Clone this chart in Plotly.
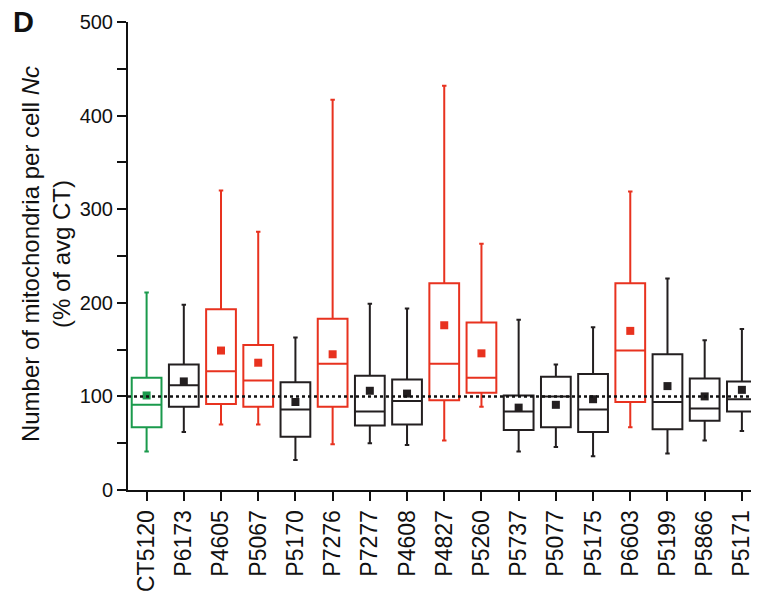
import plotly.graph_objects as go

categories = ["CT5120", "P6173", "P4605", "P5067", "P5170", "P7276", "P7277", "P4608",
              "P4827", "P5260", "P5737", "P5077", "P5175", "P6603", "P5199", "P5866", "P5171"]
upper_whisker = [211, 198, 320, 276, 163, 417, 199, 194, 432, 263, 182, 134, 174, 319, 226, 160, 172]
q3_values = [120, 134, 193, 155, 115, 183, 122, 118, 221, 179, 101, 121, 124, 221, 145, 119, 116]
median_values = [91, 112, 127, 117, 86, 135, 84, 95, 135, 120, 84, 100, 86, 149, 94, 87, 97]
q1_values = [67, 89, 92, 89, 57, 89, 69, 70, 96, 104, 64, 67, 62, 94, 65, 74, 84]
lower_whisker = [41, 62, 70, 70, 32, 49, 50, 48, 53, 89, 41, 46, 36, 67, 39, 53, 63]
mean_values = [101, 116, 149, 136, 94, 145, 106, 103, 176, 146, 88, 91, 97, 170, 111, 100, 107]
groups = ["control", "other", "high", "high", "other", "high", "other", "other",
          "high", "high", "other", "other", "other", "high", "other", "other", "other"]
reference_level = 100
y_ticks = [0, 100, 200, 300, 400, 500]

colors = {"control": "#1a9a4c", "high": "#e8321f", "other": "#231f20"}

fig = go.Figure()
for i, cat in enumerate(categories):
    c = colors[groups[i]]
    fig.add_trace(go.Box(
        x=[cat], q1=[q1_values[i]], median=[median_values[i]], q3=[q3_values[i]],
        lowerfence=[lower_whisker[i]], upperfence=[upper_whisker[i]],
        line=dict(color=c, width=2), fillcolor="rgba(255,255,255,0)",
        width=0.8, whiskerwidth=0.15, boxpoints=False, showlegend=False,
        hoverinfo="skip"))
    fig.add_trace(go.Scatter(
        x=[cat], y=[mean_values[i]], mode="markers",
        marker=dict(symbol="square", size=8, color=c), showlegend=False))

fig.add_shape(type="line", xref="paper", yref="y", x0=0, x1=1,
              y0=reference_level, y1=reference_level,
              line=dict(color="#111", width=2.5, dash="dot"), layer="above")

fig.update_layout(
    width=751, height=584,
    margin=dict(l=120, r=0, t=14, b=102),
    plot_bgcolor="white", paper_bgcolor="white",
    font=dict(family="Liberation Sans, Arial, sans-serif", color="#111", size=21),
    boxmode="overlay",
    xaxis=dict(type="category", categoryorder="array", categoryarray=categories,
               range=[-0.5, 16.46], tickangle=-90, ticks="outside", ticklen=9,
               tickwidth=2, tickcolor="#111", showline=True, linewidth=2,
               linecolor="#111", showgrid=False, zeroline=False, automargin=False,
               tickfont=dict(size=23)),
    yaxis=dict(range=[0, 500], tickvals=y_ticks, ticks="outside", ticklen=9,
               tickwidth=2, tickcolor="#111", showline=True, linewidth=2,
               linecolor="#111", showgrid=False, zeroline=False, automargin=False,
               tickfont=dict(size=20),
               minor=dict(dtick=50, ticks="outside", ticklen=9, tickwidth=2,
                          tickcolor="#111", showgrid=False)),
    annotations=[
        dict(text="Number of mitochondria per cell <i>Nc</i><br>(% of avg CT)",
             textangle=-90, xref="paper", yref="paper", x=-0.13, y=0.504,
             xanchor="center", yanchor="middle", showarrow=False,
             font=dict(size=24, color="#111")),
        dict(text="<b>D</b>", xref="paper", yref="paper", x=-0.166, y=1.0,
             xanchor="center", yanchor="middle", showarrow=False,
             font=dict(size=29, color="#111")),
    ],
)

fig.write_html("out.html")
